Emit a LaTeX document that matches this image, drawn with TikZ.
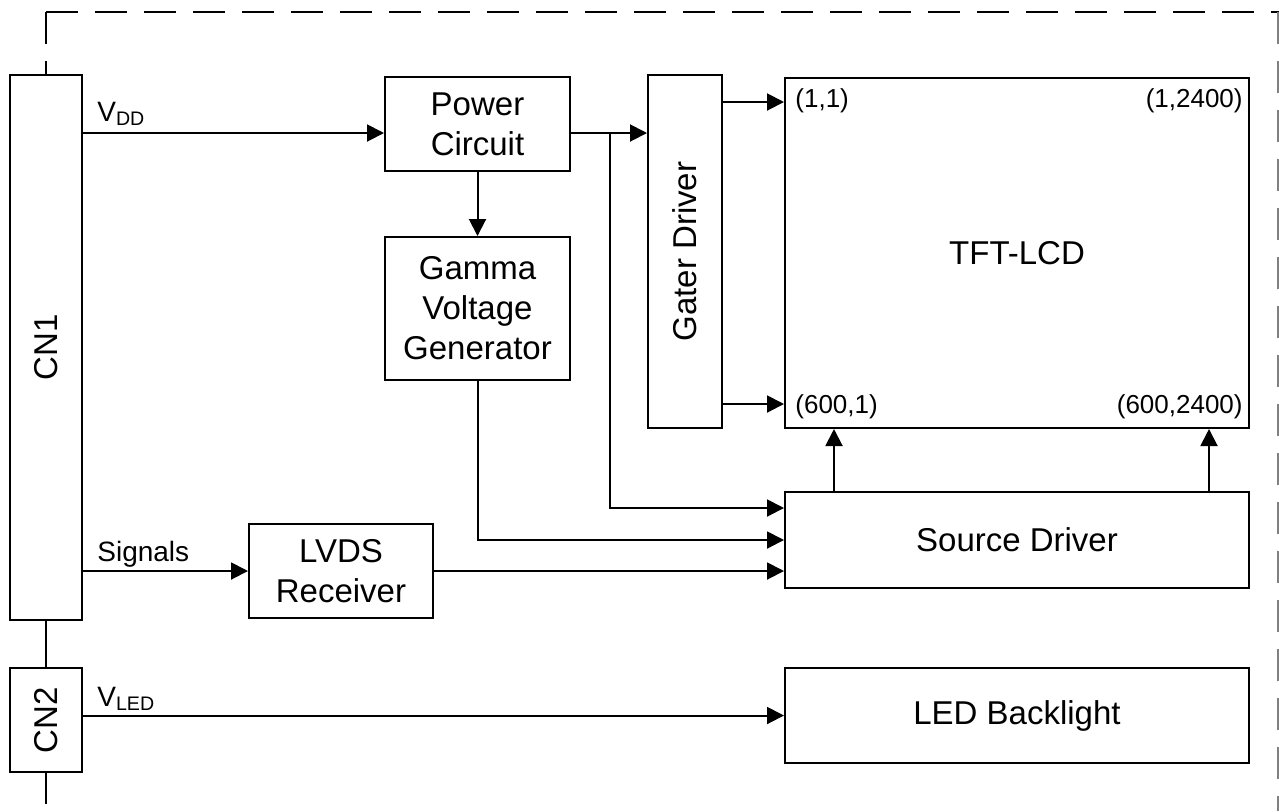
\documentclass[tikz,border=0pt]{standalone}
\usepackage{fontspec}
\usepackage{graphicx}
\setmainfont{Liberation Sans}
\usetikzlibrary{arrows.meta}
\tikzset{blk/.style={draw, line width=1pt, inner sep=0pt, align=center,
  font=\fontsize{16.5pt}{20pt}\selectfont},
  sig/.style={-{Triangle[length=8.5pt,width=8.5pt]}, line width=1pt},
  lbl/.style={inner sep=0pt, font=\fontsize{14pt}{16pt}\selectfont},
  crn/.style={inner sep=0pt, font=\fontsize{13pt}{15pt}\selectfont},
  frame/.style={dash pattern=on 16pt off 8.5pt, line width=1pt}}

\begin{document}
\begin{tikzpicture}[x=0.5pt, y=-0.5pt]
  \useasboundingbox (0,0) rectangle (1279,811);
  % dashed outline
  \draw[frame] (46,12) -- (46,75);
  \draw[frame] (46,12) -- (1279,12);
  \draw[frame, gray, line width=0.6pt] (1278,12) -- (1278,811);

  % blocks
  \node[blk, minimum width=36pt, minimum height=272.5pt] (cn1) at (46,347.5) {\rotatebox{90}{CN1}};
  \node[blk, minimum width=36pt, minimum height=52pt] (cn2) at (46,720) {\rotatebox{90}{CN2}};
  \node[blk, minimum width=92.5pt, minimum height=47pt] (power) at (477.5,124) {Power\\Circuit};
  \node[blk, minimum width=92.5pt, minimum height=71.5pt] (gamma) at (477.5,308.5) {Gamma\\Voltage\\Generator};
  \node[blk, minimum width=37pt, minimum height=176.5pt] (gater) at (685,251.5) {\rotatebox{90}{Gater Driver}};
  \node[blk, minimum width=232pt, minimum height=175pt] (tft) at (1017,253) {TFT-LCD};
  \node[blk, minimum width=92pt, minimum height=47pt] (lvds) at (341,571) {LVDS\\Receiver};
  \node[blk, minimum width=232pt, minimum height=48pt] (source) at (1017,540) {Source Driver};
  \node[blk, minimum width=232pt, minimum height=47.5pt] (led) at (1017,715.5) {LED Backlight};

  % pixel corners of the panel
  \node[crn, anchor=base west] (p11) at (795,107) {(1,1)};
  \node[crn, anchor=base east] (p12) at (1243,107) {(1,2400)};
  \node[crn, anchor=base west] (p61) at (795,413) {(600,1)};
  \node[crn, anchor=base east] (p62) at (1243,413) {(600,2400)};

  % wire labels
  \node[lbl, anchor=base west] (vddlbl) at (97,121) {V\textsubscript{DD}};
  \node[lbl, anchor=base west] (siglbl) at (97,561) {Signals};
  \node[lbl, anchor=base west] (vledlbl) at (97,706) {V\textsubscript{LED}};

  % connectors
  \coordinate (vdd) at (0,133);
  \coordinate (jn) at (610,133);
  \coordinate (s1) at (0,508);
  \coordinate (g1) at (0,102);
  \coordinate (g2) at (0,404);
  \coordinate (c1) at (834,0);
  \coordinate (c2) at (1209,0);
  \draw[sig] (vdd -| cn1.east) -- (vdd -| power.west);
  \draw[sig] (vdd -| power.east) -- (vdd -| gater.west);
  \draw[sig] (jn) |- (s1 -| source.west);
  \draw[sig] (power.south) -- (gamma.north);
  \draw[sig] (gamma.south) |- (source.west);
  \draw[sig] (cn1.east |- lvds.west) -- (lvds.west);
  \draw[sig] (lvds.east) -- (lvds.east -| source.west);
  \draw[sig] (cn2.east |- led.west) -- (led.west);
  \draw[sig] (g1 -| gater.east) -- (g1 -| tft.west);
  \draw[sig] (g2 -| gater.east) -- (g2 -| tft.west);
  \draw[sig] (c1 |- source.north) -- (c1 |- tft.south);
  \draw[sig] (c2 |- source.north) -- (c2 |- tft.south);
  \draw[line width=1pt] (cn1.south) -- (cn2.north);
  \draw[line width=1pt] (cn2.south) -- ++(0,31);
\end{tikzpicture}
\end{document}
